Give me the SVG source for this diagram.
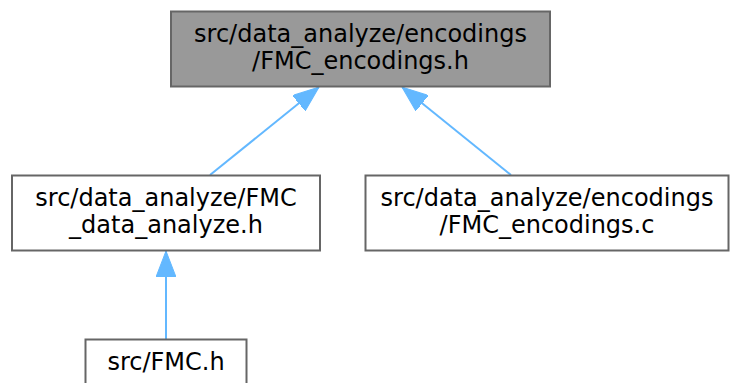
<svg xmlns="http://www.w3.org/2000/svg" width="731" height="383" viewBox="0 0 731 383">
  <style>
    .box { fill: #ffffff; stroke: #666666; stroke-width: 2; }
    .box.current { fill: #999999; }
    .lbl { font-family: "DejaVu Sans", sans-serif; font-size: 24px; fill: #000000; text-anchor: middle; }
    .edge { stroke: #63b8ff; stroke-width: 2; fill: none; }
  </style>
  <defs>
    <marker id="arrow" viewBox="0 0 26 20" refX="26" refY="10" markerWidth="26" markerHeight="20" markerUnits="userSpaceOnUse" orient="auto">
      <path d="M0,0 L26,10 L0,20 Z" fill="#63b8ff" stroke="#63b8ff" stroke-width="1"/>
    </marker>
  </defs>
  <rect width="731" height="383" fill="#ffffff"/>

  <!-- include dependency edges -->
  <g id="edges">
    <line class="edge" x1="210" y1="175" x2="319" y2="87" marker-end="url(#arrow)"/>
    <line class="edge" x1="511" y1="175" x2="402" y2="87" marker-end="url(#arrow)"/>
    <line class="edge" x1="166" y1="339" x2="166" y2="251" marker-end="url(#arrow)"/>
  </g>

  <g id="node-encodings-h">
    <rect class="box current" x="171" y="11.5" width="379" height="75"/>
    <text class="lbl" x="360.5" y="41.5">src/data_analyze/encodings</text>
    <text class="lbl" x="360.5" y="68.5">/FMC_encodings.h</text>
  </g>

  <g id="node-data-analyze-h">
    <rect class="box" x="12" y="175.5" width="308" height="75"/>
    <text class="lbl" x="166" y="206">src/data_analyze/FMC</text>
    <text class="lbl" x="166" y="233">_data_analyze.h</text>
  </g>

  <g id="node-encodings-c">
    <rect class="box" x="365.5" y="175.5" width="363" height="75"/>
    <text class="lbl" x="547" y="206">src/data_analyze/encodings</text>
    <text class="lbl" x="547" y="233">/FMC_encodings.c</text>
  </g>

  <g id="node-fmc-h">
    <rect class="box" x="85.5" y="339.5" width="161" height="50"/>
    <text class="lbl" x="166" y="370">src/FMC.h</text>
  </g>
</svg>
